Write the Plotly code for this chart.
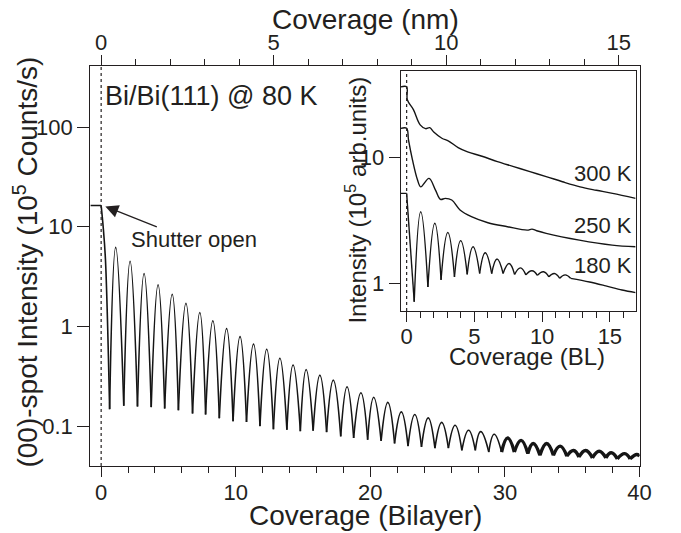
import plotly.graph_objects as go

W, H = 681, 533
INK = "#231f20"
FONT = "Liberation Sans, Arial, Helvetica, sans-serif"
NM_PER_BL = 0.39  # Bi(111) bilayer height in nm

# ---- main panel: (00)-spot intensity at 80 K ----
shutter_x = [-0.8, 0.0]
shutter_y = [16.3, 16.3]
onset_x = [0.0, 0.15, 0.32, 0.63]
onset_y = [16.3, 10.0, 4.7, 0.148]

peak_x = [1.08, 2.15, 3.19, 4.23, 5.28, 6.3, 7.33, 8.3, 9.32, 10.32,
          11.32, 12.3, 13.28, 14.26, 15.23, 16.25, 17.25, 18.27, 19.3, 20.25,
          21.3, 22.3, 23.3, 24.3, 25.3, 26.3, 27.3, 28.2, 29.2, 30.2,
          31.2, 32.1, 33.1, 34.1, 35.1, 36.0, 37.0, 37.9, 38.9, 39.8]
peak_y = [6.2, 4.5, 3.4, 2.62, 2.1, 1.71, 1.38, 1.14, 0.95, 0.79,
          0.665, 0.59, 0.48, 0.41, 0.37, 0.325, 0.289, 0.248, 0.216, 0.195,
          0.173, 0.139, 0.131, 0.121, 0.109, 0.102, 0.091, 0.088, 0.083, 0.076,
          0.072, 0.067, 0.067, 0.063, 0.057, 0.057, 0.056, 0.054, 0.053, 0.052]
trough_x = [0.63, 1.68, 2.7, 3.72, 4.72, 5.74, 6.79, 7.76, 8.78, 9.8,
            10.8, 11.8, 12.8, 13.8, 14.8, 15.75, 16.75, 17.8, 18.76, 19.8,
            20.8, 21.8, 22.8, 23.8, 24.8, 25.8, 26.8, 27.8, 28.8, 29.75,
            30.7, 31.7, 32.6, 33.6, 34.6, 35.5, 36.5, 37.5, 38.35, 39.3, 40.0]
trough_y = [0.148, 0.16, 0.157, 0.155, 0.15, 0.144, 0.134, 0.131, 0.12, 0.112,
            0.11, 0.1, 0.093, 0.092, 0.089, 0.09, 0.087, 0.079, 0.076, 0.073,
            0.071, 0.067, 0.063, 0.062, 0.06, 0.06, 0.057, 0.057, 0.055, 0.055,
            0.055, 0.053, 0.051, 0.051, 0.05, 0.049, 0.048, 0.048, 0.047, 0.047, 0.05]

# ---- inset: growth at higher temperatures ----
i300_x = [-0.43, 0.0, 0.05, 0.5, 1.0, 1.4, 1.7, 2.0, 2.6, 3.1, 3.8, 4.5, 5.5,
          6.7, 7.9, 9.1, 10.3, 11.5, 12.8, 14.0, 15.2, 16.9]
i300_y = [36.1, 36.1, 28.5, 23.8, 18.0, 16.8, 17.1, 15.8, 14.1, 13.4, 11.9, 11.0, 10.2,
          9.2, 8.4, 7.65, 7.0, 6.37, 5.8, 5.45, 5.15, 4.7]

i250_x = [-0.43, 0.0, 0.14, 0.43, 0.8, 1.04, 1.65, 2.13, 2.5, 2.85, 3.33, 3.94,
          4.78, 6.0, 7.44, 8.9, 9.25, 9.6, 10.3, 12.75, 15.17, 16.9]
i250_y = [16.9, 16.9, 13.6, 9.5, 6.6, 5.8, 6.77, 5.47, 4.61, 4.7, 4.56, 3.8,
          3.36, 3.01, 2.8, 2.63, 2.68, 2.6, 2.48, 2.19, 2.0, 1.94]

i180_flat_x = [-0.43, 0.0]
i180_flat_y = [5.15, 5.15]
i180_onset_x = [0.0, 0.56]
i180_onset_y = [5.15, 0.71]
i180_peak_x = [1.04, 2.08, 3.04, 3.99, 4.9, 5.8, 6.67, 7.56, 8.4, 9.25, 10.1, 10.9, 11.7]
i180_peak_y = [3.68, 2.98, 2.52, 2.17, 1.94, 1.74, 1.55, 1.43, 1.32, 1.25, 1.23, 1.19, 1.16]
i180_trough_x = [0.56, 1.57, 2.54, 3.53, 4.47, 5.39, 6.28, 7.12, 7.97, 8.8, 9.65, 10.5, 11.3, 12.1]
i180_trough_y = [0.71, 0.93, 1.06, 1.12, 1.17, 1.19, 1.19, 1.19, 1.17, 1.16, 1.15, 1.12, 1.09, 1.09]
i180_tail_x = [12.1, 13.5, 14.7, 15.9, 16.9]
i180_tail_y = [1.09, 1.02, 0.95, 0.88, 0.84]

main_xrange = [-0.8, 40.0]


def arches(px, py, tx, ty, start=0):
    """Each oscillation as its own trough-peak-trough spline segment."""
    xs, ys = [], []
    for i in range(start, len(px)):
        xs += [tx[i], px[i], tx[i + 1], None]
        ys += [ty[i], py[i], ty[i + 1], None]
    return xs, ys


def line(x, y, xa="x", ya="y", width=1.6, shape="spline", smoothing=1.0, opacity=1.0):
    return go.Scatter(x=x, y=y, mode="lines", xaxis=xa, yaxis=ya, opacity=opacity,
                      line=dict(color="#151515", width=width, shape=shape, smoothing=smoothing),
                      connectgaps=False, hoverinfo="skip", showlegend=False)


fig = go.Figure()

# main curve
fig.add_trace(line(shutter_x, shutter_y, shape="linear"))
fig.add_trace(line(onset_x, onset_y))
ax_, ay_ = arches(peak_x, peak_y, trough_x, trough_y)
fig.add_trace(line(ax_, ay_, smoothing=1.3))
# noisier, thicker-looking tail of the record
tail_start = next(i for i, v in enumerate(peak_x) if v > 29.5)
tx_, ty_ = arches(peak_x, peak_y, trough_x, trough_y, start=tail_start)
fig.add_trace(line(tx_, ty_, width=3.4, smoothing=1.3))
# transparent carrier so the nm axis on top is drawn
fig.add_trace(line([v * NM_PER_BL for v in main_xrange], shutter_y, "x2", "y",
                   shape="linear", opacity=0))

# inset curves
fig.add_trace(line(i300_x, i300_y, "x3", "y3", width=1.4))
fig.add_trace(line(i250_x, i250_y, "x3", "y3", width=1.4))
fig.add_trace(line(i180_flat_x, i180_flat_y, "x3", "y3", width=1.4, shape="linear"))
fig.add_trace(line(i180_onset_x, i180_onset_y, "x3", "y3", width=1.4, shape="linear"))
bx_, by_ = arches(i180_peak_x, i180_peak_y, i180_trough_x, i180_trough_y)
fig.add_trace(line(bx_, by_, "x3", "y3", width=1.4, smoothing=1.3))
fig.add_trace(line(i180_tail_x, i180_tail_y, "x3", "y3", width=1.4))


def px2x(p):
    return p / W


def py2y(p):
    return 1 - p / H


main_xdom = [px2x(92), px2x(651)]
main_ydom = [py2y(466), py2y(66)]
ins_xdom = [px2x(408), px2x(647)]
ins_ydom = [py2y(311), py2y(71)]

tickfont = dict(family=FONT, size=22, color=INK)
axis_common = dict(showline=True, linecolor=INK, linewidth=1.3, ticks="outside",
                   tickcolor=INK, tickwidth=1.3, showgrid=False, zeroline=False,
                   tickfont=tickfont)
minor_ticks = dict(ticklen=6, ticks="outside", tickcolor=INK, tickwidth=1.3)

fig.update_layout(
    width=W, height=H, margin=dict(l=0, r=0, t=0, b=0),
    paper_bgcolor="white", plot_bgcolor="white", showlegend=False,
    xaxis=dict(domain=main_xdom, range=main_xrange, anchor="y", tick0=0, dtick=10,
               ticklen=10, ticklabelstandoff=-4, minor=dict(dtick=2, **minor_ticks),
               **axis_common),
    xaxis2=dict(domain=main_xdom, overlaying="x", side="top", anchor="y",
                range=[v * NM_PER_BL for v in main_xrange],
                tick0=0, dtick=5, ticklen=10, ticklabelstandoff=-4,
                minor=dict(dtick=1, **minor_ticks), **axis_common),
    yaxis=dict(domain=main_ydom, type="log", range=[-1.40, 2.612], anchor="x",
               tickvals=[0.1, 1, 10, 100], ticktext=["0.1", "1", "10", "100"],
               ticklen=12, mirror=True, **axis_common),
    xaxis3=dict(domain=ins_xdom, range=[-0.43, 16.9], anchor="y3", tick0=0, dtick=5,
                ticklen=10, ticklabelstandoff=-5, mirror=True,
                minor=dict(dtick=1, **minor_ticks), **axis_common),
    yaxis3=dict(domain=ins_ydom, type="log", range=[-0.222, 1.683], anchor="x3",
                tickvals=[1, 10], ticktext=["1", "10"], ticklen=11, mirror=True,
                **axis_common),
)

# dotted markers of the shutter opening
fig.add_shape(type="line", xref="x", yref="y domain", x0=0, x1=0, y0=0, y1=1,
              line=dict(color=INK, width=1.2, dash="dot"))
fig.add_shape(type="line", xref="x3", yref="y3 domain", x0=0, x1=0, y0=0, y1=1,
              line=dict(color=INK, width=1.2, dash="dot"))


def label(text, x, y, size, xanchor="center", yanchor="middle", angle=0):
    fig.add_annotation(text=text, xref="paper", yref="paper", x=px2x(x), y=py2y(y),
                       xanchor=xanchor, yanchor=yanchor, textangle=angle, showarrow=False,
                       font=dict(family=FONT, size=size, color=INK))


label("Coverage (Bilayer)", 372, 515, 28)
label("Coverage (nm)", 372, 19, 28)
label("(00)-spot Intensity (10<sup>5</sup> Counts/s)", 26, 262, 28, angle=-90)
label("Intensity (10<sup>5</sup> arb.units)", 362, 200, 24, angle=-90)
label("Coverage (BL)", 536, 356, 24)
label("Bi/Bi(111) @ 80 K", 105, 96, 27, xanchor="left")
label("Shutter open", 131, 239, 22, xanchor="left")
label("300 K", 645, 173, 22, xanchor="right")
label("250 K", 645, 226, 22, xanchor="right")
label("180 K", 645, 265, 22, xanchor="right")

# arrow pointing at the shutter-open step
fig.add_annotation(x=0.31, y=1.204, xref="x", yref="y", text="", showarrow=True,
                   ax=53, ay=21, axref="pixel", ayref="pixel",
                   arrowhead=2, arrowsize=2.0, arrowwidth=1.3, arrowcolor=INK)

fig.write_html("out.html")
